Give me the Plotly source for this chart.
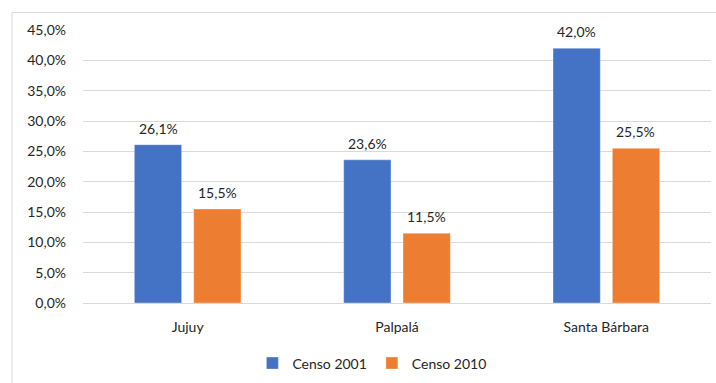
import plotly.graph_objects as go

# Población con NBI por departamento
departamentos = ["Jujuy", "Palpalá", "Santa Bárbara"]
censo_2001 = [26.1, 23.6, 42.0]
censo_2010 = [15.5, 11.5, 25.5]
series_names = ["Censo 2001", "Censo 2010"]
y_ticks = [0, 5, 10, 15, 20, 25, 30, 35, 40, 45]
y_ticktext = [f"{t:.1f}%".replace(".", ",") for t in y_ticks]

AZUL = "#4472C4"
NARANJA = "#ED7D31"
FONT = "Lato"
FS = 14

fig = go.Figure()
for name, vals, color in [(series_names[0], censo_2001, AZUL),
                          (series_names[1], censo_2010, NARANJA)]:
    fig.add_trace(go.Bar(
        name=name, x=departamentos, y=vals,
        marker=dict(color=color, line=dict(color="rgba(255,255,255,0.35)", width=1)),
    ))

# Etiquetas de valor sobre cada barra
for vals, shift in [(censo_2001, -29.5), (censo_2010, 29.5)]:
    for cat, v in zip(departamentos, vals):
        fig.add_annotation(
            x=cat, y=v, xshift=shift, yshift=6, yanchor="bottom",
            text=f"{v:.1f}%".replace(".", ","), showarrow=False,
            font=dict(family=FONT, size=FS, color="#262626"),
        )

# Marco del gráfico
fig.add_shape(type="rect", xref="paper", yref="paper",
              x0=-0.113, x1=1.2, y0=-0.6, y1=1.064,
              line=dict(color="#D9D9D9", width=1), layer="below")

fig.update_layout(
    width=716, height=383,
    margin=dict(l=83, r=5, t=30, b=79),
    plot_bgcolor="white", paper_bgcolor="white",
    barmode="group", bargap=0.433, bargroupgap=0.203,
    font=dict(family=FONT, size=FS, color="#262626"),
    xaxis=dict(showgrid=False, showline=False, ticks="", ticklabelstandoff=14,
               automargin=False, tickfont=dict(size=FS, color="#262626")),
    yaxis=dict(range=[0, 45], tickvals=y_ticks, ticktext=y_ticktext,
               showgrid=True, gridcolor="#D9D9D9", gridwidth=1,
               zeroline=True, zerolinecolor="#D9D9D9", zerolinewidth=1,
               ticks="", ticklabelstandoff=16, automargin=False,
               tickfont=dict(size=FS, color="#262626")),
    legend=dict(orientation="h", x=0.46, xanchor="center", y=-0.217, yanchor="middle",
                font=dict(size=FS, color="#262626"), itemwidth=30,
                traceorder="normal"),
    showlegend=True,
)

fig.write_html("out.html")
